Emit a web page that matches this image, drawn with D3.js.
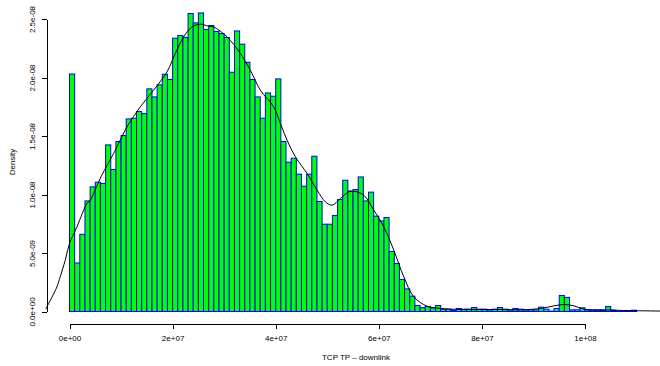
<!DOCTYPE html>
<html>
<head>
<meta charset="utf-8">
<script src="https://cdnjs.cloudflare.com/ajax/libs/d3/7.8.5/d3.min.js"></script>
<style>
  body { margin: 0; background: #fff; }
  svg { display: block; font-family: "Liberation Sans", Arial, sans-serif; }
</style>
</head>
<body>
<div id="hist"></div>
<script>
// Histogram bins are 1e6 wide starting at 0, densities in units of 1e-9
const binWidth = 1e6
const densityUnit = 1e-9
const densities = [
  20.3, 4.15, 6.6, 9.45, 10.65, 11.05, 10.94, 14.24, 12.14, 14.53,
  15.04, 16.46, 16.52, 17.09, 16.92, 19.03, 18.34, 19.37, 20.28, 19.83,
  23.36, 23.59, 23.42, 25.47, 24.67, 25.52, 24.1, 24.44, 23.93, 23.76,
  23.42, 20.45, 23.98, 22.85, 21.3, 19.83, 18.34, 16.52, 18.68, 18.4,
  19.88, 14.53, 12.76, 13.1, 11.74, 10.71, 11.74, 13.27, 9.4, 7.46,
  7.46, 8.2, 9.57, 11.22, 10.3, 10.43, 11.5, 9.45, 10.2, 8.15,
  7.74, 8.03, 5.13, 4.1, 2.74, 1.93, 1.31, 0.51, 0.33, 0.43,
  0.31, 0.51, 0.2, 0.2, 0.09, 0.26, 0.2, 0.2, 0.34, 0.2,
  0.2, 0.14, 0.2, 0.34, 0.2, 0.14, 0.26, 0.2, 0.14, 0.14,
  0.14, 0.37, 0.2, 0.03, 0.26, 1.37, 1.2, 0.14, 0.14, 0.31,
  0.14, 0.14, 0.14, 0.14, 0.43, 0.09, 0.03, 0.03, 0.03, 0.11
]

// Density curve (x in 1e6, density in 1e-9)
const curveX = [
  -4.6, -4.39, -2.45, -1.81, -0.83, 0, 1.44, 3.38, 4.02, 6.1,
  8.54, 9.2, 11.15, 13.73, 16.31, 18.91, 20.52, 22.14, 23.77, 25.38,
  26.99, 27.96, 30.56, 33.15, 35.09, 37.03, 39.61, 40.91, 42.21, 43.83,
  46.1, 48.04, 49.65, 50.95, 52.56, 54.17, 55.15, 57.09, 59.03, 60.97,
  62.91, 64.85, 66.8, 69.4, 71.98, 75.86, 79.7, 83.6, 87.5, 91.4,
  93.98, 95.92, 97.86, 99.8, 103.05, 105, 106.9, 112.7, 116
]
const curveY = [
  0.2, 0.39, 2.1, 2.96, 4.38, 5.81, 7.23, 9.23, 9.51, 11.5,
  13.5, 14.07, 15.78, 17.49, 18.91, 20.48, 22.05, 23.47, 24.32, 24.56,
  24.38, 24.32, 23.47, 22.05, 20.62, 18.91, 17.49, 16.07, 14.64, 13.21,
  11.79, 10.37, 9.37, 9.09, 9.66, 10.22, 10.28, 9.94, 8.66, 7.23,
  5.24, 2.96, 1.25, 0.45, 0.26, 0.17, 0.17, 0.17, 0.14, 0.26,
  0.48, 0.6, 0.48, 0.2, 0.11, 0.14, 0.09, 0.05, 0.03
]

const xTicks = [0, 2e7, 4e7, 6e7, 8e7, 1e8]
const xTickLabels = ["0e+00", "2e+07", "4e+07", "6e+07", "8e+07", "1e+08"]
const yTicks = [0, 5e-9, 1e-8, 1.5e-8, 2e-8, 2.5e-8]
const yTickLabels = ["0.0e+00", "5.0e-09", "1.0e-08", "1.5e-08", "2.0e-08", "2.5e-08"]

const xLabel = "TCP TP \u2013 downlink"
const yLabel = "Density"

// Dimensions
const dimensions = {
  width: 660,
  height: 366,
  plotLeft: 46.5,
  plotBottom: 323.5
}

const wrapper = d3.select("#hist").append("svg")
  .attr("width", dimensions.width)
  .attr("height", dimensions.height)

// Scales
const xScale = d3.scaleLinear()
  .domain([0, 1e8])
  .range([69.5, 585])

const yScale = d3.scaleLinear()
  .domain([0, 2.5e-8])
  .range([311.5, 19])

// Bars
wrapper.append("g")
  .selectAll("rect")
  .data(densities)
  .join("rect")
    .attr("x", (d, i) => xScale(i * binWidth))
    .attr("width", (d, i) => xScale((i + 1) * binWidth) - xScale(i * binWidth))
    .attr("y", d => yScale(d * densityUnit))
    .attr("height", d => yScale(0) - yScale(d * densityUnit))
    .attr("fill", "#00ff00")
    .attr("stroke", "#0000ff")
    .attr("stroke-width", 1)

// Density line
const lineGenerator = d3.line()
  .x(d => xScale(d[0] * 1e6))
  .y(d => yScale(d[1] * densityUnit))
  .curve(d3.curveCatmullRom)

wrapper.append("path")
  .attr("d", lineGenerator(curveX.map((x, i) => [x, curveY[i]])))
  .attr("fill", "none")
  .attr("stroke", "black")
  .attr("stroke-width", 1)

// X axis
const xAxis = wrapper.append("g")
  .attr("transform", `translate(0, ${dimensions.plotBottom})`)
  .call(d3.axisBottom(xScale)
    .tickValues(xTicks)
    .tickFormat((d, i) => xTickLabels[i])
    .tickSize(5)
    .tickSizeOuter(0))
xAxis.selectAll(".domain, line")
  .attr("stroke", "black")
  .attr("shape-rendering", "crispEdges")
xAxis.selectAll("text")
  .attr("y", 17.3)
  .attr("dy", null)
  .attr("font-size", 8)
  .attr("font-family", "Liberation Sans, Arial, sans-serif")
  .attr("fill", "black")

// Y axis
const yAxis = wrapper.append("g")
  .attr("transform", `translate(${dimensions.plotLeft}, 0)`)
  .call(d3.axisLeft(yScale)
    .tickValues(yTicks)
    .tickFormat((d, i) => yTickLabels[i])
    .tickSize(5)
    .tickSizeOuter(0))
yAxis.selectAll(".domain, line")
  .attr("stroke", "black")
  .attr("shape-rendering", "crispEdges")
yAxis.selectAll("text")
  .attr("x", null)
  .attr("dy", null)
  .attr("transform", "translate(-12, 0) rotate(-90)")
  .attr("text-anchor", "middle")
  .attr("font-size", 8)
  .attr("font-family", "Liberation Sans, Arial, sans-serif")
  .attr("fill", "black")

// Axis labels
wrapper.append("text")
  .attr("x", 356)
  .attr("y", 360)
  .attr("text-anchor", "middle")
  .attr("font-size", 8)
  .text(xLabel)

wrapper.append("text")
  .attr("transform", "translate(15, 162) rotate(-90)")
  .attr("text-anchor", "middle")
  .attr("font-size", 8)
  .text(yLabel)
</script>
</body>
</html>
